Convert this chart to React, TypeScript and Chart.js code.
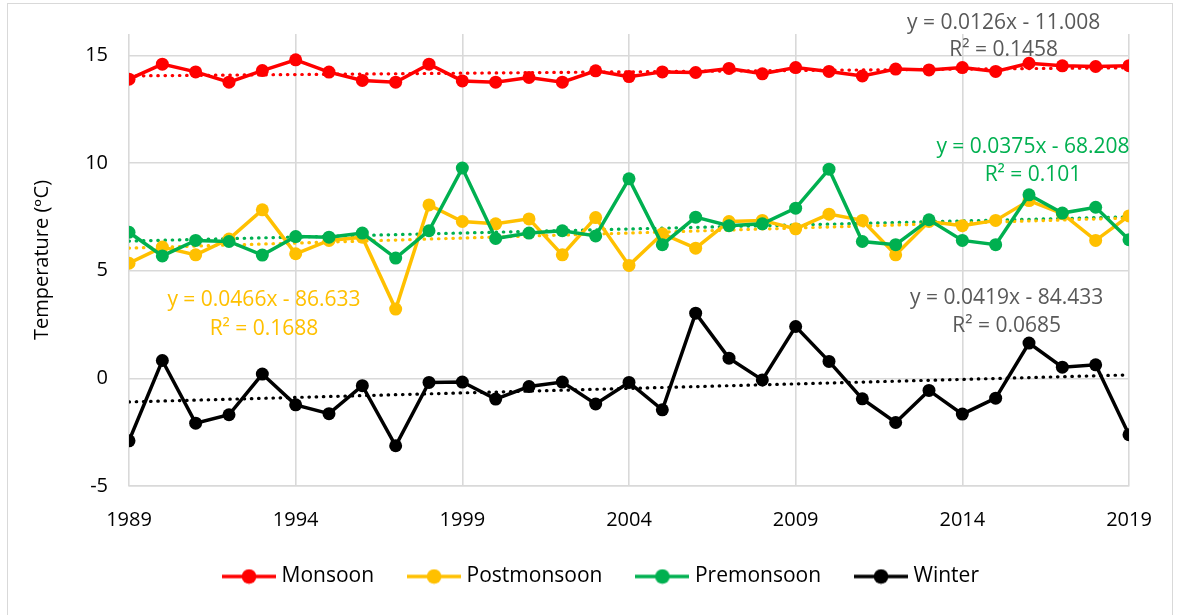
import React, { useEffect, useRef } from "react";
import { Chart, registerables } from "chart.js";

Chart.register(...registerables);

// ---------- data ----------
const years = [
  1989, 1990, 1991, 1992, 1993, 1994, 1995, 1996, 1997, 1998, 1999,
  2000, 2001, 2002, 2003, 2004, 2005, 2006, 2007, 2008, 2009,
  2010, 2011, 2012, 2013, 2014, 2015, 2016, 2017, 2018, 2019,
];

const monsoon = [
  13.9, 14.6, 14.24, 13.76, 14.3, 14.8, 14.23, 13.84, 13.76, 14.6, 13.82,
  13.76, 13.98, 13.76, 14.29, 14.02, 14.24, 14.21, 14.4, 14.15, 14.44,
  14.26, 14.05, 14.37, 14.33, 14.44, 14.26, 14.64, 14.52, 14.49, 14.53,
];

const postmonsoon = [
  5.35, 6.1, 5.74, 6.47, 7.83, 5.79, 6.41, 6.56, 3.22, 8.06, 7.29,
  7.18, 7.41, 5.74, 7.47, 5.25, 6.72, 6.05, 7.29, 7.34, 6.95,
  7.63, 7.34, 5.74, 7.29, 7.09, 7.34, 8.26, 7.65, 6.41, 7.55,
];

const premonsoon = [
  6.79, 5.69, 6.41, 6.36, 5.73, 6.59, 6.56, 6.75, 5.59, 6.86, 9.77,
  6.5, 6.75, 6.86, 6.62, 9.27, 6.21, 7.49, 7.09, 7.18, 7.91,
  9.72, 6.36, 6.21, 7.37, 6.41, 6.21, 8.53, 7.68, 7.95, 6.44,
];

const winter = [
  -2.9, 0.83, -2.08, -1.69, 0.2, -1.23, -1.64, -0.34, -3.13, -0.19, -0.17,
  -0.96, -0.38, -0.17, -1.19, -0.19, -1.46, 3.03, 0.94, -0.07, 2.41,
  0.79, -0.95, -2.05, -0.56, -1.66, -0.92, 1.64, 0.52, 0.63, -2.62,
];

const seriesNames = ["Monsoon", "Postmonsoon", "Premonsoon", "Winter"];
const seriesColors = ["#FF0000", "#FFC000", "#00B050", "#000000"];
const seriesValues = [monsoon, postmonsoon, premonsoon, winter];

// linear trend lines shown in the chart (y = slope * year + intercept)
const trendSlopes = [0.0126, 0.0466, 0.0375, 0.0419];
const trendIntercepts = [-11.008, -86.633, -68.208, -84.433];

const xTicks = [1989, 1994, 1999, 2004, 2009, 2014, 2019];
const yTicks = [-5, 0, 5, 10, 15];

// trend equation labels (anchored in data coordinates)
const eqTexts = [
  "y = 0.0126x - 11.008",
  "R² = 0.1458",
  "y = 0.0466x - 86.633",
  "R² = 0.1688",
  "y = 0.0375x - 68.208",
  "R² = 0.101",
  "y = 0.0419x - 84.433",
  "R² = 0.0685",
];
const eqX = [2015.24, 2015.24, 1993.05, 1993.05, 2016.12, 2016.12, 2015.33, 2015.33];
const eqY = [16.52, 15.26, 3.62, 2.3, 10.76, 9.46, 3.74, 2.41];
const eqColors = ["#595959", "#595959", "#FFC000", "#FFC000", "#00B050", "#00B050", "#595959", "#595959"];

const FONT_FAMILY = '"Open Sans", "DejaVu Sans", sans-serif';

function makeLegendIcon(color: string): HTMLCanvasElement {
  const c = document.createElement("canvas");
  c.width = 54;
  c.height = 16;
  const g = c.getContext("2d")!;
  g.strokeStyle = color;
  g.lineWidth = 3.5;
  g.beginPath();
  g.moveTo(0, 8);
  g.lineTo(54, 8);
  g.stroke();
  g.fillStyle = color;
  g.beginPath();
  g.arc(27, 8, 7.3, 0, Math.PI * 2);
  g.fill();
  return c;
}

const eqLabelPlugin = {
  id: "eqLabels",
  afterDatasetsDraw(chart: any) {
    const { ctx, scales } = chart;
    const xs = scales.x;
    const ys = scales.y;
    ctx.save();
    ctx.font = `21px ${FONT_FAMILY}`;
    ctx.textAlign = "center";
    ctx.textBaseline = "middle";
    eqTexts.forEach((t, i) => {
      ctx.fillStyle = eqColors[i];
      ctx.fillText(t, xs.getPixelForValue(eqX[i]), ys.getPixelForValue(eqY[i]));
    });
    ctx.restore();
  },
};

const legendCenterPlugin = {
  id: "legendCenter",
  afterLayout(chart: any) {
    const lg = chart.legend;
    if (!lg) return;
    const dx = 603 - (lg.left + lg.right) / 2;
    lg.left += dx;
    lg.right += dx;
  },
};

export default function App() {
  const ref = useRef<HTMLCanvasElement | null>(null);

  useEffect(() => {
    if (!ref.current) return;
    const icons = seriesColors.map(makeLegendIcon);

    const mainSets = seriesNames.map((name, i) => ({
      label: name,
      data: years.map((yr, k) => ({ x: yr, y: seriesValues[i][k] })),
      borderColor: seriesColors[i],
      backgroundColor: seriesColors[i],
      borderWidth: 3.5,
      pointRadius: 6.5,
      pointHoverRadius: 6.5,
      pointBorderWidth: 0,
      pointBackgroundColor: seriesColors[i],
      tension: 0,
      order: 4 - i,
    }));

    const first = years[0];
    const last = years[years.length - 1];
    const trendSets = seriesNames.map((name, i) => ({
      label: name + " trend",
      data: [
        { x: first, y: trendSlopes[i] * first + trendIntercepts[i] },
        { x: last, y: trendSlopes[i] * last + trendIntercepts[i] },
      ],
      borderColor: seriesColors[i],
      borderWidth: 3.2,
      borderDash: [0.5, 6.7],
      borderCapStyle: "round",
      pointRadius: 0,
      tension: 0,
      order: 10 + i,
    }));

    const font = { family: FONT_FAMILY, size: 20 };
    const legendFont = { family: FONT_FAMILY, size: 21 };

    const chart = new Chart(ref.current, {
      type: "line",
      data: { datasets: [...mainSets, ...trendSets] as any },
      options: {
        responsive: false,
        animation: false,
        layout: { padding: { left: 14, right: 51, top: 34, bottom: 18 } },
        plugins: {
          tooltip: { enabled: false },
          legend: {
            position: "bottom",
            labels: {
              usePointStyle: true,
              pointStyleWidth: 44,
              boxHeight: 20,
              padding: 38,
              color: "#000",
              font: legendFont,
              generateLabels: () =>
                seriesNames.map((n, i) => ({
                  text: n,
                  pointStyle: icons[i] as any,
                  fillStyle: seriesColors[i],
                  strokeStyle: seriesColors[i],
                  lineWidth: 0,
                  hidden: false,
                  datasetIndex: i,
                  fontColor: "#000",
                })),
            },
          },
        },
        scales: {
          x: {
            type: "linear",
            min: first,
            max: last,
            afterBuildTicks: (s: any) => {
              s.ticks = xTicks.map((v) => ({ value: v }));
            },
            afterFit: (s: any) => {
              s.height = 42;
            },
            grid: { color: "#D9D9D9", lineWidth: 1.6, drawTicks: false },
            border: { color: "#D9D9D9", width: 1.6 },
            ticks: {
              padding: 22,
              color: "#000",
              font,
              maxRotation: 0,
              autoSkip: false,
              callback: (v: any) => String(v),
            },
          },
          y: {
            type: "linear",
            min: -5,
            max: 16,
            afterBuildTicks: (s: any) => {
              s.ticks = yTicks.map((v) => ({ value: v }));
            },
            afterFit: (s: any) => {
              s.width = 129 - 14;
            },
            grid: { color: "#D9D9D9", lineWidth: 1.6, drawTicks: false },
            border: { display: false },
            ticks: {
              padding: 21,
              color: "#000",
              font,
              callback: (v: any) => String(v),
            },
            title: {
              display: true,
              text: "Temperature (ᵒC)",
              color: "#000",
              font,
              padding: { top: 16, bottom: 0 },
            },
          },
        },
      },
      plugins: [eqLabelPlugin, legendCenterPlugin],
    } as any);

    return () => chart.destroy();
  }, []);

  return (
    <div
      style={{
        position: "absolute",
        left: 0,
        top: 0,
        width: 1180,
        height: 615,
        background: "#fff",
        overflow: "hidden",
      }}
    >
      <div
        style={{
          position: "absolute",
          left: 7,
          top: 3,
          width: 1166,
          height: 640,
          border: "1px solid #D9D9D9",
          boxSizing: "border-box",
        }}
      />
      <canvas
        ref={ref}
        width={1180}
        height={615}
        style={{ position: "absolute", left: 0, top: 0, width: 1180, height: 615 }}
      />
    </div>
  );
}
